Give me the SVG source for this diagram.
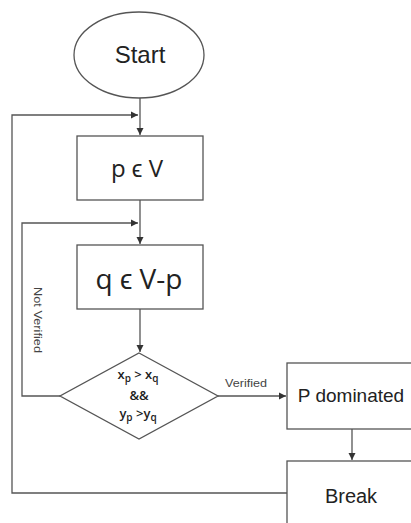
<svg xmlns="http://www.w3.org/2000/svg" width="411" height="523" viewBox="0 0 411 523">
<defs>
<style>
.shape{fill:#ffffff;stroke:#555555;stroke-width:1.3}
.line{fill:none;stroke:#555555;stroke-width:1.3}
.t{font-family:"Liberation Sans",Arial,sans-serif;fill:#222222;text-anchor:middle}
.o{font-family:"Open Sans","Liberation Sans",sans-serif;fill:#222222;text-anchor:middle}
.s{font-family:"Liberation Sans",Arial,sans-serif;fill:#444444;font-size:11.5px}
</style>
<marker id="ah" markerWidth="8" markerHeight="8" refX="7" refY="4" orient="auto" markerUnits="userSpaceOnUse">
<path d="M0,0.5 L7,4 L0,7.5 Z" fill="#333333"/>
</marker>
</defs>
<rect width="411" height="523" fill="#ffffff"/>
<g id="connectors">
<path class="line" d="M140,98 V135" marker-end="url(#ah)"/>
<path class="line" d="M140,200 V244" marker-end="url(#ah)"/>
<path class="line" d="M140,309 V352" marker-end="url(#ah)"/>
<path class="line" d="M287,493 H12 V115 H138" marker-end="url(#ah)"/>
<path class="line" d="M60,396 H22 V223 H138" marker-end="url(#ah)"/>
<path class="line" d="M218,396 H286" marker-end="url(#ah)"/>
<path class="line" d="M352,429 V460" marker-end="url(#ah)"/>
<text class="s" transform="translate(34,320) rotate(90)" text-anchor="middle" textLength="66" lengthAdjust="spacingAndGlyphs">Not Verified</text>
<text class="s" x="246" y="387" text-anchor="middle" textLength="42" lengthAdjust="spacingAndGlyphs">Verified</text>
</g>
<g id="start">
<ellipse class="shape" cx="139" cy="55" rx="65" ry="43"/>
<text class="t" x="140" y="63" font-size="24">Start</text>
</g>
<g id="p">
<rect class="shape" x="77" y="136" width="126" height="64"/>
<text class="o" x="137" y="177" font-size="24">p ϵ V</text>
</g>
<g id="q">
<rect class="shape" x="77" y="245" width="126" height="64"/>
<text class="o" x="139" y="289" font-size="28">q ϵ V-p</text>
</g>
<g id="decision">
<polygon class="shape" points="139,353 218,396 139,439 60,396"/>
<text class="o" x="138" y="379" font-size="13" font-weight="600">x<tspan font-size="10" dy="3">p</tspan><tspan dy="-3"> &gt; x</tspan><tspan font-size="10" dy="3">q</tspan></text>
<text class="o" x="139" y="400" font-size="13" font-weight="600">&amp;&amp;</text>
<text class="o" x="138" y="418" font-size="13" font-weight="600">y<tspan font-size="10" dy="3">p</tspan><tspan dy="-3"> &gt;y</tspan><tspan font-size="10" dy="3">q</tspan></text>
</g>
<g id="dominated">
<rect class="shape" x="287" y="363" width="130" height="66"/>
<text class="t" x="351" y="402" font-size="19">P dominated</text>
</g>
<g id="break">
<rect class="shape" x="287" y="461" width="130" height="80"/>
<text class="t" x="351" y="503" font-size="20">Break</text>
</g>
</svg>
